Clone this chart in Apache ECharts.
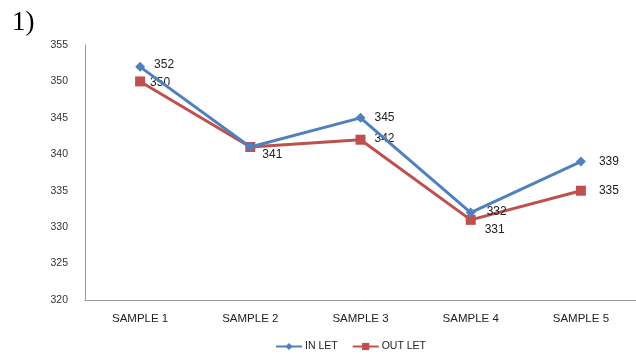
<!DOCTYPE html>
<html>
<head>
<meta charset="utf-8">
<script src="https://cdn.jsdelivr.net/npm/echarts@6/dist/echarts.min.js"></script>
<style>
  html, body { margin: 0; padding: 0; background: #fff; }
  #chart { width: 636px; height: 356px; }
</style>
</head>
<body>
<div id="chart"></div>
<script>
const categories = ['SAMPLE 1', 'SAMPLE 2', 'SAMPLE 3', 'SAMPLE 4', 'SAMPLE 5'];
const inletValues = [352, 341, 345, 332, 339];
const outletValues = [350, 341, 342, 331, 335];
const yTicks = [320, 325, 330, 335, 340, 345, 350, 355];

// per-point label placement: [position, dx, dy, show]
const inletLabelPlace = [
  ['right', 4, -2, true], ['right', 0, 0, false], ['right', 4, 0, true],
  ['right', 6, -1, true], ['right', 8, 0, true]
];
const outletLabelPlace = [
  ['right', 0, 1, true], ['right', 2, 8, true], ['right', 4, -1, true],
  ['right', 4, 10, true], ['right', 8, 0, true]
];

function withLabels(values, place) {
  return values.map((v, i) => ({
    value: v,
    label: {
      show: place[i][3],
      position: place[i][0],
      offset: [place[i][1], place[i][2]]
    }
  }));
}

const chart = echarts.init(document.getElementById('chart'));
chart.setOption({
  animation: false,
  backgroundColor: '#fff',
  title: {
    text: '1)',
    left: 7, top: 4,
    textStyle: { fontFamily: 'Liberation Serif', fontSize: 27, fontWeight: 'normal', color: '#000' }
  },
  grid: { left: 85, top: 45, width: 555, height: 255 },
  legend: {
    top: 336,
    left: 270,
    itemWidth: 26,
    itemHeight: 9,
    itemGap: 14,
    textStyle: { fontFamily: 'Liberation Sans', fontSize: 10.5, color: '#222', padding: [0, 0, 0, -2] },
    data: ['IN LET', 'OUT LET']
  },
  xAxis: {
    type: 'category',
    data: categories,
    boundaryGap: true,
    axisLine: { lineStyle: { color: '#999', width: 1 } },
    axisTick: { show: false },
    axisLabel: { fontFamily: 'Liberation Sans', fontSize: 11.5, color: '#222', margin: 13 }
  },
  yAxis: {
    type: 'value',
    min: yTicks[0],
    max: yTicks[yTicks.length - 1],
    interval: 5,
    splitLine: { show: false },
    axisLine: { show: true, lineStyle: { color: '#999', width: 1 } },
    axisTick: { show: false },
    axisLabel: { fontFamily: 'Liberation Sans', fontSize: 10.5, color: '#333', margin: 17 }
  },
  series: [
    {
      name: 'IN LET',
      type: 'line',
      data: withLabels(inletValues, inletLabelPlace),
      symbol: 'diamond',
      symbolSize: 10,
      itemStyle: { color: '#4F81BD' },
      lineStyle: { color: '#4F81BD', width: 3 },
      label: { fontFamily: 'Liberation Sans', fontSize: 12, color: '#222' },
      z: 3
    },
    {
      name: 'OUT LET',
      type: 'line',
      data: withLabels(outletValues, outletLabelPlace),
      symbol: 'rect',
      symbolSize: 10,
      itemStyle: { color: '#C0504D' },
      lineStyle: { color: '#C0504D', width: 3 },
      label: { fontFamily: 'Liberation Sans', fontSize: 12, color: '#222' },
      z: 2
    }
  ]
});
</script>
</body>
</html>
